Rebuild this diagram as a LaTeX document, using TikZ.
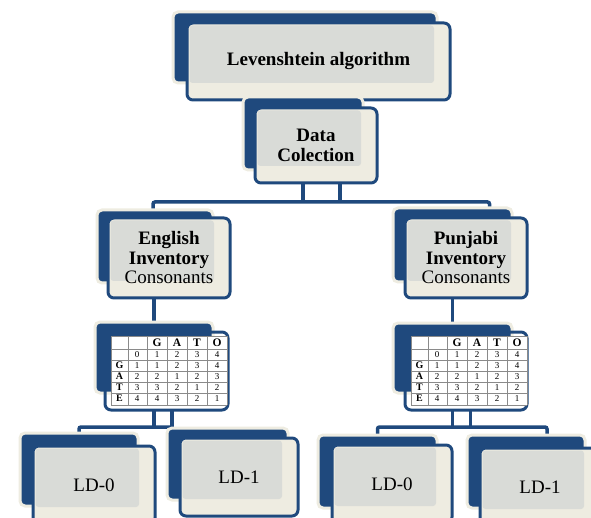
\documentclass[tikz,border=0pt]{standalone}
\usepackage{fontspec}
\setmainfont{Liberation Serif}
\usetikzlibrary{backgrounds}
\definecolor{deepnavy}{HTML}{1F497D}
\definecolor{parchment}{HTML}{EEECE1}
\definecolor{paleslate}{HTML}{D9DBD7}
\definecolor{gridgray}{HTML}{8A8A8A}

% GATE vs GATO distance matrix, hung under a card
\newcommand\gatotable[1]{%
\begin{scope}[shift={([shift={(6,4)}]#1.north west)}]
\fill[white] (0,0) rectangle (116,69);
\foreach \gx in {0,17,36,56,76,96,116} \draw[gridgray, line width=0.8] (\gx,0) -- (\gx,69);
\foreach \gy in {0,13,24,35,46,57,69} \draw[gridgray, line width=0.8] (0,\gy) -- (116,\gy);
\foreach \ch [count=\i] in {G,A,T,O}
  \node[cell, font=\fontsize{11.5}{12}\bfseries] (#1-h\i) at ({26+20*\i},6.5) {\ch};
\foreach \v [count=\i from 0] in {0,1,2,3,4}
  \node[cell] (#1-n\i) at ({26+20*\i},18.5) {\v};
\foreach \ch/\vals [count=\j] in {G/{1,1,2,3,4},A/{2,2,1,2,3},T/{3,3,2,1,2},E/{4,4,3,2,1}} {
  \node[cell, font=\fontsize{10}{10}\bfseries] (#1-r\j) at (8.5,{18.5+11*\j}) {\ch};
  \foreach \v [count=\i from 0] in \vals
    \node[cell] (#1-\j-\i) at ({26+20*\i},{18.5+11*\j}) {\v};
}
\end{scope}}

\begin{document}
\begin{tikzpicture}[x=1pt, y=-1pt,
  plate/.style={rectangle, rounded corners=5, fill=deepnavy, draw=parchment, line width=3, inner sep=0, outer sep=0},
  card/.style={rectangle, rounded corners=6, fill=parchment, draw=deepnavy, line width=3, inner sep=0, outer sep=0,
    align=center, font=\fontsize{19}{19.5}\selectfont,
    path picture={\fill[paleslate, rounded corners=3] ([shift={(2.5,2.5)}]path picture bounding box.north west) rectangle ([shift={(-16,-17)}]path picture bounding box.south east);}},
  tablecard/.style={rectangle, rounded corners=6, draw=deepnavy, line width=3, inner sep=0, outer sep=0},
  cell/.style={inner sep=0, font=\fontsize{9}{9}\selectfont},
  link/.style={draw=deepnavy, line width=3.5, rounded corners=2}]
\useasboundingbox (0,0) rectangle (591,518);
\clip (0,0) rectangle (591,518);

% top of the hierarchy
\node[plate, minimum width=264, minimum height=71] (algo-back) at (305,47.5) {};
\node[card, minimum width=263, minimum height=77] (algo) at (318.5,61.5) {\textbf{Levenshtein algorithm}};

\node[plate, minimum width=120, minimum height=73] (data-back) at (303,133.5) {};
\node[card, minimum width=122, minimum height=75] (data) at (316,145.5) {\textbf{Data}\\\textbf{Colection}};

% the two inventories
\node[plate, minimum width=116, minimum height=73] (english-back) at (155,246.5) {};
\node[card, minimum width=122, minimum height=80] (english) at (169,258) {\textbf{English}\\\textbf{Inventory}\\Consonants};

\node[plate, minimum width=119, minimum height=74] (punjabi-back) at (452.5,245) {};
\node[card, minimum width=122, minimum height=80] (punjabi) at (466,258) {\textbf{Punjabi}\\\textbf{Inventory}\\Consonants};

% distance tables
\node[plate, minimum width=118, minimum height=71] (tablel-back) at (154,357.5) {};
\node[tablecard, minimum width=123, minimum height=78] (tablel) at (166.5,371) {};
\gatotable{tablel}

\node[plate, minimum width=119, minimum height=70] (tabler-back) at (452.5,358) {};
\node[tablecard, minimum width=122, minimum height=78] (tabler) at (466,371) {};
\gatotable{tabler}

% leaves
\node[plate, minimum width=118, minimum height=73] (ld0l-back) at (79,469.5) {};
\node[card, minimum width=122, minimum height=78] (ld0l) at (94,485) {LD-0};

\node[plate, minimum width=121, minimum height=72] (ld1l-back) at (227.5,464) {};
\node[card, minimum width=118, minimum height=78] (ld1l) at (239,477) {LD-1};

\node[plate, minimum width=119, minimum height=73] (ld0r-back) at (377.5,471.5) {};
\node[card, minimum width=120, minimum height=78] (ld0r) at (392,484) {LD-0};

\node[plate, minimum width=118, minimum height=73] (ld1r-back) at (526,471.5) {};
\node[card, minimum width=120, minimum height=78] (ld1r) at (540,487) {LD-1};

\begin{scope}[on background layer]
\draw[link] ([xshift=-13]data.south) -- ++(0,19);
\draw[link] ([xshift=24]data.south) -- ++(0,19);
\draw[link] ([xshift=-2]english-back.north) -- ++(0,-8) -| ([xshift=37]punjabi-back.north);

\draw[link] (english.south -| tablel-back.north) -- (tablel-back.north);
\draw[link] (punjabi.south -| tabler-back.north) -- (tabler-back.north);

\draw[link] (tablel.south -| tablel-back.north) -- ++(0,17);
\draw[link] (tablel.south -| tablel-back.north) ++(18,0) -- ++(0,17);
\draw[link] (ld0l-back.north) -- ++(0,-6) -- ++(93,0);

\draw[link] (tabler.south -| tabler-back.north) -- ++(0,17);
\draw[link] (tabler.south -| tabler-back.north) ++(18,0) -- ++(0,17);
\draw[link] (ld0r-back.north) -- ++(0,-8) -| ([xshift=21]ld1r-back.north);
\end{scope}
\end{tikzpicture}
\end{document}
